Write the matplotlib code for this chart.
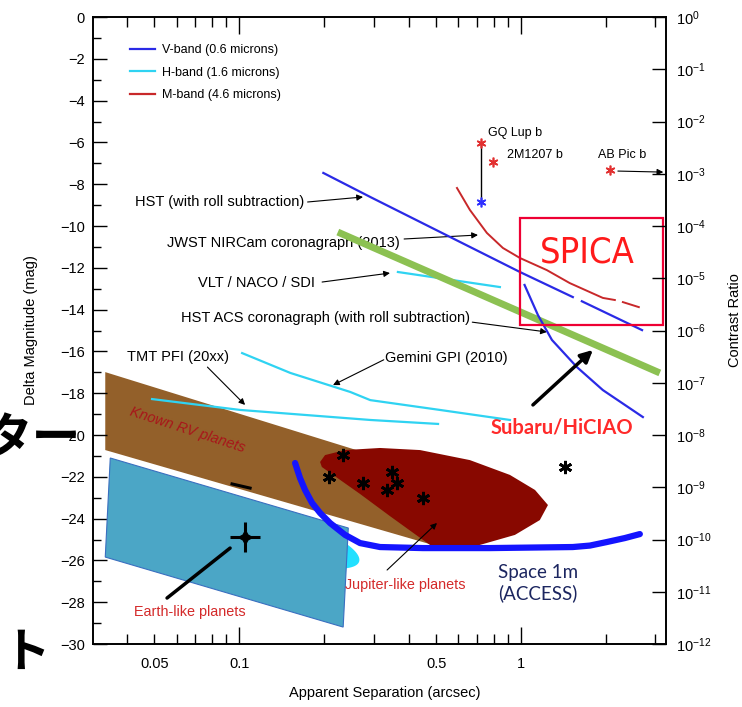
import numpy as np
import matplotlib
matplotlib.use("Agg")
import matplotlib.pyplot as plt
from matplotlib.lines import Line2D
from matplotlib.patches import Polygon, Rectangle
from matplotlib.ticker import LogFormatterSciNotation, NullLocator

plt.rcParams["font.family"] = ["Liberation Sans", "DejaVu Sans"]
plt.rcParams["mathtext.fontset"] = "custom"
plt.rcParams["mathtext.rm"] = "Liberation Sans"
plt.rcParams["mathtext.it"] = "Liberation Sans:italic"

# ---- contrast curves (separation in arcsec, delta magnitude) ----
hst_sep = [0.199, 0.292, 0.992, 1.528, np.nan, 1.645, 2.69]
hst_dm = [-7.46, -8.61, -12.2, -13.4, np.nan, -13.6, -14.98]

nircam_sep = [0.593, 0.659, 0.757, 0.863, 0.992, 1.236, 1.49, 1.953, 2.154, np.nan, 2.30, 2.62]
nircam_dm = [-8.18, -9.23, -10.33, -11.05, -11.53, -12.11, -12.73, -13.44, -13.54, np.nan, -13.64, -13.88]

hiciao_sep = [0.224, 3.11]
hiciao_dm = [-10.29, -17.03]

vlt_sep = [0.366, 0.842]
vlt_dm = [-12.2, -12.92]

acs_sep = [1.03, 1.149, 1.288, 1.58, 1.953, 2.708]
acs_dm = [-12.82, -14.26, -15.45, -16.75, -17.85, -19.14]

gpi_sep = [0.1025, 0.152, 0.248, 0.292, 0.516, 0.914]
gpi_dm = [-16.08, -17.03, -17.94, -18.33, -18.8, -19.28]

tmt_sep = [0.0491, 0.1008, 0.292, 0.508]
tmt_dm = [-18.28, -18.8, -19.28, -19.47]

access_sep = [0.158, 0.1645, 0.1714, 0.1815, 0.1938, 0.2102, 0.2377, 0.2686, 0.3162,
              0.449, 0.777, 1.528, 1.757, 2.018, 2.338, 2.642]
access_dm = [-21.34, -22.06, -22.63, -23.25, -23.73, -24.21, -24.78, -25.17, -25.36,
             -25.41, -25.41, -25.36, -25.29, -25.12, -24.93, -24.74]

# ---- planet regions ----
rv_sep = [0.0335, 0.516, 0.516, 0.0335]
rv_dm = [-16.99, -21.96, -25.36, -20.72]

jup_sep = [0.1938, 0.2018, 0.2377, 0.3162, 0.4385, 0.659, 0.914, 1.122, 1.247,
           1.167, 0.952, 0.715, 0.516, 0.4756, 0.343, 0.2686, 0.1966]
jup_dm = [-21.29, -20.96, -20.72, -20.62, -20.72, -21.2, -21.91, -22.63, -23.35,
          -24.07, -24.78, -25.26, -25.5, -25.26, -23.88, -22.82, -21.53]

earth_sep = [0.0349, 0.244, 0.234, 0.0335]
earth_dm = [-21.1, -24.45, -29.19, -25.84]

# bright cyan blob behind the Earth-like box:
# centre, half length (dex), half height (mag), tilt (mag per dex)
glow_sep, glow_dm, glow_hw, glow_hh, glow_tilt = 0.152, -25.0, 0.245, 1.0, -3.97

star_sep = [0.2339, 0.2085, 0.2754, 0.349, 0.3631, 0.3349, 0.449, 1.432]
star_dm = [-20.96, -22.01, -22.3, -21.77, -22.3, -22.63, -23.01, -21.53]

dash_sep = [0.0944, 0.1094]
dash_dm = [-22.34, -22.54]

earth_star_sep, earth_star_dm = 0.105, -24.88

comp_names = ["GQ Lup b", "2M1207 b", "AB Pic b"]
comp_sep = [0.722, 0.796, 2.07]
comp_dm = [-6.03, -6.94, -7.32]
comp_lbl_sep = [0.764, 0.892, 1.875]
comp_lbl_dm = [-5.55, -6.6, -6.6]
gqlup_v_dm = -8.85

band_labels = ["V-band (0.6 microns)", "H-band (1.6 microns)", "M-band (4.6 microns)"]
V_COL, H_COL, M_COL = "#2a2ae6", "#2fd3f2", "#c8282a"

fig = plt.figure(figsize=(7.42, 7.07), dpi=100)
ax = fig.add_axes([0.1253, 0.0891, 0.7722, 0.8868])
ax.set_xscale("log")
ax.set_xlim(0.0303, 3.27)
ax.set_ylim(-30, 0)

# regions
ax.add_patch(Polygon(list(zip(rv_sep, rv_dm)), closed=True, fc="#93602a", ec="none", zorder=1))
t = np.linspace(0, 2 * np.pi, 120)
gx = glow_hw * np.cos(t)
ax.fill(10 ** (np.log10(glow_sep) + gx), glow_dm + glow_tilt * gx + glow_hh * np.sin(t),
        color="#22e0ff", zorder=1.5, lw=0)
ax.add_patch(Polygon(list(zip(earth_sep, earth_dm)), closed=True, fc="#4ba6c6", ec="#3a6fc0",
                     lw=0.8, zorder=2))
ax.add_patch(Polygon(list(zip(jup_sep, jup_dm)), closed=True, fc="#880800", ec="none", zorder=2))

# curves
ax.plot(hst_sep, hst_dm, color=V_COL, lw=1.6, zorder=4)
ax.plot(nircam_sep, nircam_dm, color=M_COL, lw=1.4, zorder=4)
ax.plot(vlt_sep, vlt_dm, color=H_COL, lw=1.6, zorder=4)
ax.plot(hiciao_sep, hiciao_dm, color="#8cc152", lw=5, solid_capstyle="butt", zorder=4)
ax.plot(acs_sep, acs_dm, color=V_COL, lw=1.6, zorder=4)
ax.plot(gpi_sep, gpi_dm, color=H_COL, lw=1.6, zorder=4)
ax.plot(tmt_sep, tmt_dm, color=H_COL, lw=1.6, zorder=4)
ax.plot(access_sep, access_dm, color="#1414ff", lw=4.5, solid_capstyle="round",
        solid_joinstyle="round", zorder=3)

# known planets
ax.plot(star_sep, star_dm, ls="none", marker=(6, 2, 0), ms=9.5, mew=2, color="black", zorder=5)
ax.plot(dash_sep, dash_dm, color="black", lw=2.2, zorder=5)
ax.plot(earth_star_sep, earth_star_dm, marker="+", ms=21, mew=2.2, color="black", zorder=5)
ax.plot(earth_star_sep, earth_star_dm, marker=(4, 1, 0), ms=10, color="black", zorder=5)
ax.plot([comp_sep[0], comp_sep[0]], [comp_dm[0], gqlup_v_dm], color="black", lw=1, zorder=5)
ax.plot(comp_sep, comp_dm, ls="none", marker=(6, 2, 0), ms=7, mew=1.2, color="#e23030", zorder=6)
ax.plot(comp_sep[0], gqlup_v_dm, marker=(6, 2, 0), ms=7, mew=1.2, color="#3030ff", zorder=6)
for name, x, y in zip(comp_names, comp_lbl_sep, comp_lbl_dm):
    ax.text(x, y, name, fontsize=9, ha="left", va="center", zorder=7)

# annotations
arrow = dict(arrowstyle="-|>", color="black", lw=0.8, mutation_scale=9, shrinkA=0, shrinkB=0)
FS = 10.5
ax.text(0.170, -8.85, "HST (with roll subtraction)", fontsize=FS, ha="right", va="center")
ax.annotate("", xy=(0.2752, -8.61), xytext=(0.175, -8.85), arrowprops=arrow)
ax.text(0.3724, -10.81, "JWST NIRCam coronagraph (2013)", fontsize=FS, ha="right", va="center", zorder=3)
ax.annotate("", xy=(0.704, -10.43), xytext=(0.385, -10.62), arrowprops=arrow)
ax.text(0.1861, -12.73, "VLT / NACO / SDI", fontsize=FS, ha="right", va="center")
ax.annotate("", xy=(0.343, -12.25), xytext=(0.197, -12.68), arrowprops=arrow)
ax.text(0.659, -14.4, "HST ACS coronagraph (with roll subtraction)", fontsize=FS, ha="right", va="center")
ax.annotate("", xy=(1.236, -15.07), xytext=(0.672, -14.6), arrowprops=arrow)
ax.text(0.0608, -16.27, "TMT PFI (20xx)", fontsize=FS, ha="center", va="center")
ax.annotate("", xy=(0.105, -18.56), xytext=(0.0772, -16.75), arrowprops=arrow)
ax.text(0.3295, -16.32, "Gemini GPI (2010)", fontsize=FS, ha="left", va="center")
ax.annotate("", xy=(0.2154, -17.61), xytext=(0.326, -16.4), arrowprops=arrow)
ax.annotate("", xy=(3.2, -7.42), xytext=(2.208, -7.37), arrowprops=arrow)

ax.text(0.0654, -19.75, "Known RV planets", fontsize=10.5, style="italic", color="#a8161a",
        rotation=-18, ha="center", va="center", rotation_mode="anchor", zorder=6)
ax.text(0.067, -28.47, "Earth-like planets", fontsize=10.4, color="#d42a2a", ha="center", va="center")
ax.annotate("", xy=(0.0929, -25.41), xytext=(0.0555, -27.8),
            arrowprops=dict(arrowstyle="-", color="black", lw=2.5, shrinkA=0, shrinkB=0), zorder=6)
ax.text(0.388, -27.18, "Jupiter-like planets", fontsize=10.4, color="#d42a2a", ha="center", va="center")
ax.annotate("", xy=(0.5036, -24.21), xytext=(0.335, -26.46), arrowprops=arrow, zorder=6)

ax.text(1.398, -19.62, "Subaru/HiCIAO", fontsize=14.5, fontweight="bold", family="Lato",
        color="#ff2a2a", ha="center", va="center")
ax.annotate("", xy=(1.80, -15.93), xytext=(1.103, -18.56),
            arrowprops=dict(arrowstyle="-|>", color="black", lw=2.5, mutation_scale=18,
                            shrinkA=0, shrinkB=0), zorder=6)
ax.text(1.149, -27.08, "Space 1m\n(ACCESS)", fontsize=13.5, family="Lato", color="#1c2660",
        ha="center", va="center", linespacing=1.25)

ax.add_patch(Rectangle((0.992, -14.74), 3.187 - 0.992, 5.12, fill=False, ec="#ee0033", lw=1.6, zorder=6))
ax.text(1.714, -11.29, "SPICA", fontsize=26, family="DejaVu Sans", fontstretch="condensed",
        fontweight="medium", color="#ff1a1a", ha="center", va="center", zorder=6)

# legend
handles = [Line2D([], [], color=c, lw=1.6) for c in (V_COL, H_COL, M_COL)]
ax.legend(handles, band_labels, loc="upper left", bbox_to_anchor=(0.0646, 0.957), frameon=False,
          fontsize=9, handlelength=2.0, handletextpad=0.55, labelspacing=0.85,
          borderpad=0, borderaxespad=0)

# axes / ticks
ax.set_yticks(np.arange(-30, 1, 2))
ax.set_yticks(np.arange(-29, 0, 2), minor=True)
ax.set_xticks([0.1, 1], ["0.1", "1"])
minor_x = [0.04, 0.05, 0.06, 0.07, 0.08, 0.09, 0.2, 0.3, 0.4, 0.5, 0.6, 0.7, 0.8, 0.9, 2, 3]
minor_lbl = ["0.05" if v == 0.05 else "0.5" if v == 0.5 else "" for v in minor_x]
ax.set_xticks(minor_x, minor_lbl, minor=True)
ax.tick_params(axis="both", which="both", direction="in", labelsize=10.5, width=1)
ax.tick_params(axis="x", which="both", top=True, bottom=True, pad=9)
ax.tick_params(axis="x", which="major", length=12)
ax.tick_params(axis="x", which="minor", length=7)
ax.tick_params(axis="y", which="both", left=True, right=False, pad=6)
ax.tick_params(axis="y", which="major", length=10)
ax.tick_params(axis="y", which="minor", length=6)
for s in ax.spines.values():
    s.set_linewidth(1.2)

ax.set_xlabel("Apparent Separation (arcsec)", fontsize=10.5)
ax.xaxis.set_label_coords(0.51, -0.067)
ax.set_ylabel("Delta Magnitude (mag)", fontsize=10.5)
ax.yaxis.set_label_coords(-0.096, 0.5)

ax2 = ax.twinx()
ax2.set_yscale("log")
ax2.set_ylim(1e-12, 1)
ax2.set_yticks([10.0 ** k for k in range(-12, 1)])
ax2.yaxis.set_minor_locator(NullLocator())
ax2.yaxis.set_major_formatter(LogFormatterSciNotation())
ax2.tick_params(axis="y", direction="in", length=10, width=1, pad=7, labelsize=10.5)
ax2.set_ylabel("Contrast Ratio", fontsize=10.5)
ax2.yaxis.set_label_coords(1.108, 0.517)
for s in ax2.spines.values():
    s.set_linewidth(1.2)

# slide text cut at the left edge
fig.text(-17 / 742, 1 - 453 / 707, "ター", fontsize=35, fontweight="bold",
         family="Noto Sans CJK JP", ha="left", va="baseline")
fig.text(-43 / 742, 1 - 667 / 707, "ット", fontsize=34, fontweight="bold",
         family="Noto Sans CJK JP", ha="left", va="baseline")

fig.savefig("out.png", dpi=100)
